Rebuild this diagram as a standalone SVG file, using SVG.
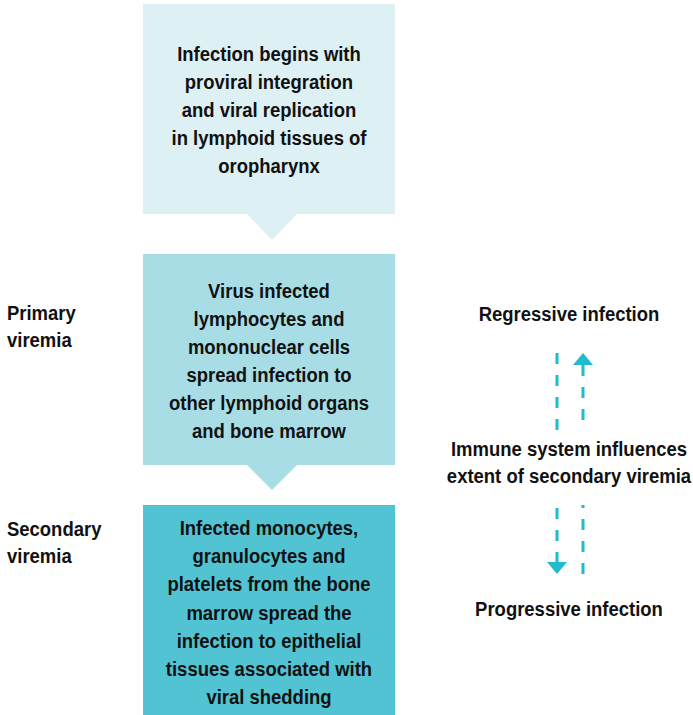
<svg xmlns="http://www.w3.org/2000/svg" width="693" height="715" viewBox="0 0 693 715">
<style>
text{font-family:"Liberation Sans",Arial,sans-serif;font-weight:bold;font-size:21px;fill:#111}
.c{text-anchor:middle}
.d{stroke:#1ebccd;stroke-width:3;stroke-dasharray:11 11;fill:none}
.h{fill:#1ebccd}
</style>
<rect width="693" height="715" fill="#fff"/>
<g id="n1">
<path d="M143 4H395V214H297L272 240L247 214H143Z" fill="#ddf0f4"/>
<g transform="matrix(0.88 0 0 1 32.28 0)">
<text class="c" x="269" y="61">Infection begins with</text>
<text class="c" x="269" y="89">proviral integration</text>
<text class="c" x="269" y="117">and viral replication</text>
<text class="c" x="269" y="145">in lymphoid tissues of</text>
<text class="c" x="269" y="173">oropharynx</text>
</g>
</g>
<g id="n2">
<path d="M143 254H395V465H297L272 490L247 465H143Z" fill="#a8dde6"/>
<g transform="matrix(0.88 0 0 1 32.28 0)">
<text class="c" x="269" y="298">Virus infected</text>
<text class="c" x="269" y="326">lymphocytes and</text>
<text class="c" x="269" y="354">mononuclear cells</text>
<text class="c" x="269" y="382">spread infection to</text>
<text class="c" x="269" y="410">other lymphoid organs</text>
<text class="c" x="269" y="438">and bone marrow</text>
</g>
</g>
<g id="n3">
<rect x="143" y="505" width="252" height="210" fill="#52c3d3"/>
<g transform="matrix(0.88 0 0 1 32.28 0)">
<text class="c" x="269" y="535">Infected monocytes,</text>
<text class="c" x="269" y="563">granulocytes and</text>
<text class="c" x="269" y="591">platelets from the bone</text>
<text class="c" x="269" y="620">marrow spread the</text>
<text class="c" x="269" y="648">infection to epithelial</text>
<text class="c" x="269" y="676">tissues associated with</text>
<text class="c" x="269" y="704">viral shedding</text>
</g>
</g>
<g id="primary" transform="matrix(0.88 0 0 1 0.84 0)">
<text x="7" y="320">Primary</text>
<text x="7" y="347">viremia</text>
</g>
<g id="secondary" transform="matrix(0.88 0 0 1 0.84 0)">
<text x="7" y="536">Secondary</text>
<text x="7" y="563">viremia</text>
</g>
<g id="regressive" transform="matrix(0.88 0 0 1 68.28 0)"><text class="c" x="569" y="321">Regressive infection</text></g>
<g id="immune" transform="matrix(0.88 0 0 1 68.28 0)">
<text class="c" x="569" y="456">Immune system influences</text>
<text class="c" x="569" y="483">extent of secondary viremia</text>
</g>
<g id="progressive" transform="matrix(0.88 0 0 1 68.28 0)"><text class="c" x="569" y="616">Progressive infection</text></g>
<g id="connectors">
<path class="d" d="M557 353V430"/>
<path class="d" d="M583 420V365"/>
<path class="h" d="M583 353L593 365H573Z"/>
<path class="d" d="M557 508V562"/>
<path class="h" d="M557 574L567 562H547Z"/>
<path class="d" d="M583 505V575" stroke-dashoffset="8"/>
</g>
</svg>
